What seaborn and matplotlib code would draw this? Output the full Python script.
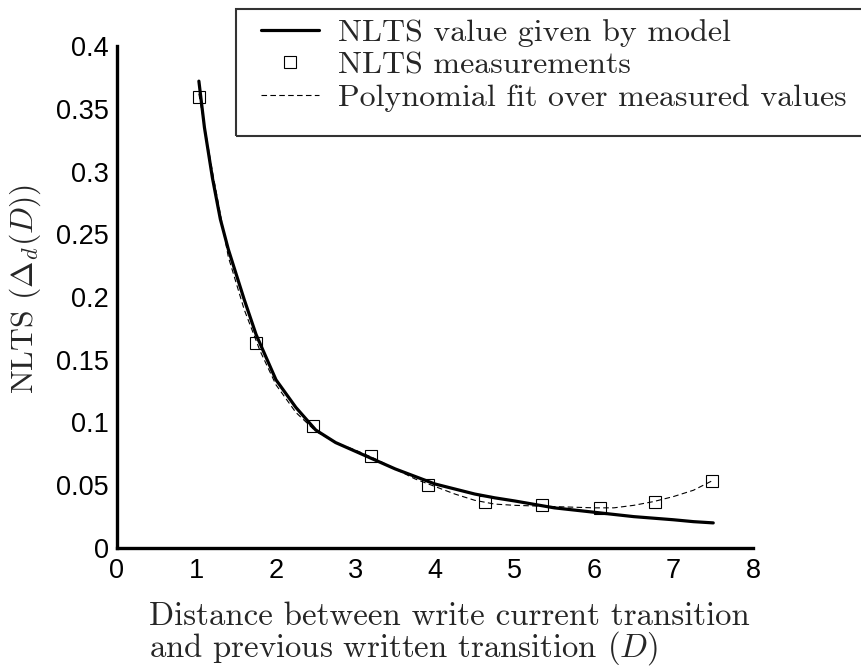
import numpy as np
import matplotlib
matplotlib.use("Agg")
import matplotlib.pyplot as plt
from matplotlib.patches import Rectangle
from matplotlib.lines import Line2D
import seaborn as sns

# model curve
model_x = [1.03, 1.1, 1.2, 1.3, 1.4, 1.5, 1.6, 1.75, 2.0, 2.25, 2.5, 2.75, 3.0, 3.25,
           3.5, 3.75, 4.0, 4.25, 4.5, 4.75, 5.0, 5.5, 6.0, 6.5, 7.0, 7.25, 7.5]
model_y = [0.372, 0.335, 0.295, 0.262, 0.238, 0.218, 0.198, 0.170, 0.134, 0.112, 0.094,
           0.084, 0.077, 0.070, 0.063, 0.057, 0.051, 0.047, 0.043, 0.040, 0.0375,
           0.032, 0.0285, 0.025, 0.0225, 0.021, 0.020]

# measurements
meas_x = [1.03, 1.75, 2.47, 3.2, 3.91, 4.63, 5.35, 6.07, 6.77, 7.49]
meas_y = [0.359, 0.163, 0.097, 0.0735, 0.050, 0.037, 0.034, 0.032, 0.037, 0.0536]

# polynomial fit over measured values
fit_x = [1.03, 1.2, 1.4, 1.6, 1.8, 2.0, 2.25, 2.5, 2.75, 3.0, 3.25, 3.5, 3.75, 4.0,
         4.25, 4.5, 4.75, 5.0, 5.5, 6.0, 6.25, 6.5, 6.75, 7.0, 7.25, 7.5]
fit_y = [0.362, 0.300, 0.232, 0.190, 0.157, 0.130, 0.108, 0.093, 0.084, 0.078, 0.071,
         0.063, 0.055, 0.049, 0.043, 0.038, 0.035, 0.034, 0.033, 0.032, 0.032, 0.034,
         0.037, 0.041, 0.046, 0.054]

x_ticks = [0, 1, 2, 3, 4, 5, 6, 7, 8]
y_ticks = [0, 0.05, 0.1, 0.15, 0.2, 0.25, 0.3, 0.35, 0.4]
y_ticklabels = ["0", "0.05", "0.1", "0.15", "0.2", "0.25", "0.3", "0.35", "0.4"]

labels = ["NLTS value given by model", "NLTS measurements",
          "Polynomial fit over measured values"]
xlabel_lines = ["Distance between write current transition",
                "and previous written transition $(D)$"]

sns.set_style("white")
plt.rcParams["font.family"] = ["Liberation Sans", "DejaVu Sans"]
plt.rcParams["mathtext.fontset"] = "cm"

W, H = 861, 671
fig = plt.figure(figsize=(W / 100, H / 100), dpi=100)
ax = fig.add_axes([117 / W, 1 - 548 / H, 636 / W, 502 / H])

fit_style = dict(color="black", lw=0.8, linestyle=(0, (5, 3)))
sns.lineplot(x=fit_x, y=fit_y, ax=ax, sort=False, **fit_style)
sns.lineplot(x=model_x, y=model_y, ax=ax, color="black", lw=2.3, sort=False)
mk_style = dict(linestyle="none", marker="s", markersize=9, markerfacecolor="none",
                markeredgecolor="black", markeredgewidth=0.8)
ax.plot(meas_x, meas_y, **mk_style)

ax.set_xlim(0, 8)
ax.set_ylim(0, 0.4)
ax.set_xticks(x_ticks)
ax.set_yticks(y_ticks)
ax.set_yticklabels(y_ticklabels)
ax.tick_params(direction="in", length=5, width=1.8, labelsize=19.5, colors="black")
ax.tick_params(axis="y", pad=6)
ax.tick_params(axis="x", pad=7)
for side in ["top", "right"]:
    ax.spines[side].set_visible(False)
for side in ["left", "bottom"]:
    ax.spines[side].set_linewidth(2.4)
    ax.spines[side].set_color("black")

# x label: two left-aligned lines
for txt, base in zip(xlabel_lines, [625, 657]):
    fig.text(149 / W, 1 - base / H, txt, family="cmr10", fontsize=23.6,
             ha="left", va="baseline")
ax.set_ylabel(r"NLTS $(\Delta_d(D))$", family="cmr10", fontsize=22.8, va="center")
ax.yaxis.set_label_coords(-0.145, 0.516)

handles = [
    Line2D([], [], color="black", lw=2.3),
    Line2D([], [], **mk_style),
    Line2D([], [], **fit_style),
]
fig.add_artist(Rectangle((236 / W, 1 - 136 / H), 640 / W, 127 / H,
                         transform=fig.transFigure, fill=False, lw=1.5,
                         edgecolor="#333333"))
fig.legend(handles, labels, loc="upper left", bbox_to_anchor=(261 / W, 1 - 19 / H),
           frameon=False, prop={"family": "cmr10", "size": 23}, handlelength=1.8,
           handletextpad=0.6, labelspacing=0.12, borderpad=0, borderaxespad=0)

fig.savefig("out.png", dpi=100)
